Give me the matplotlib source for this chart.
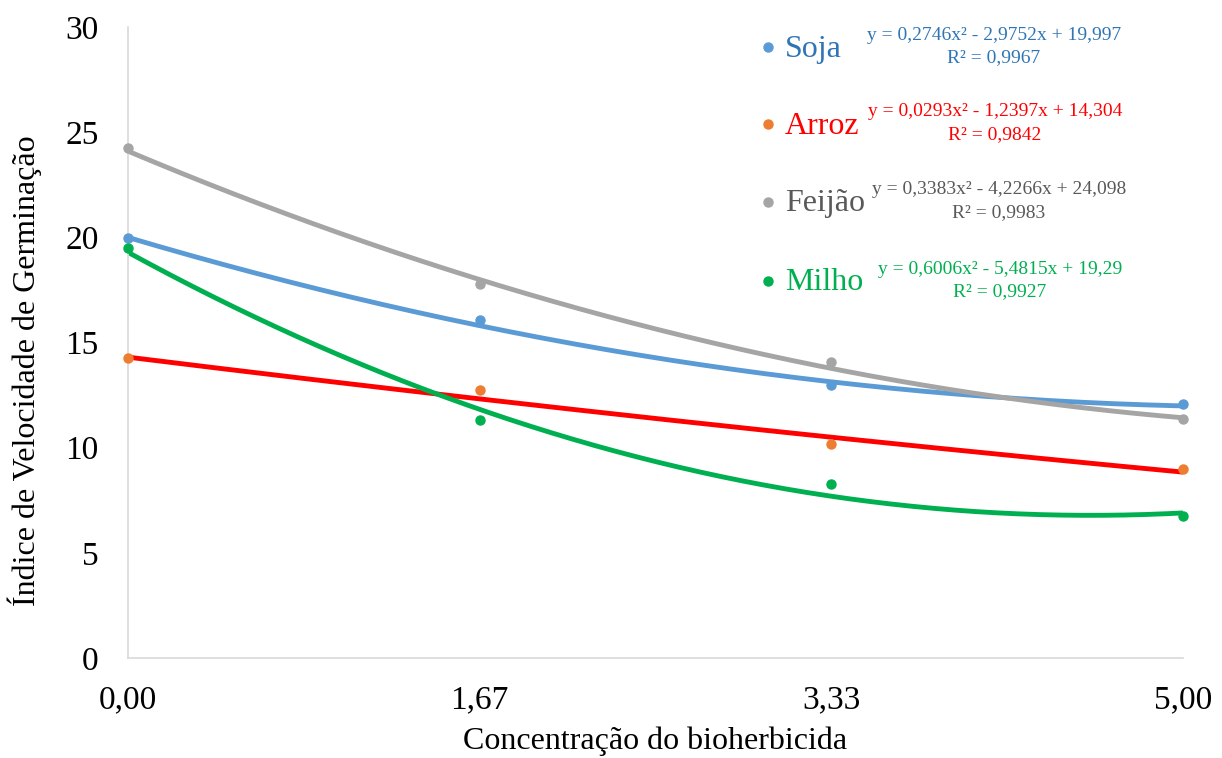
import matplotlib.pyplot as plt
import numpy as np

plt.rcParams['font.family'] = ['Liberation Serif', 'DejaVu Serif']

concentracao = [0.0, 1.6667, 3.3333, 5.0]
tick_labels = ["0,00", "1,67", "3,33", "5,00"]

soja = [19.97, 16.07, 12.98, 12.08]
arroz = [14.26, 12.74, 10.18, 8.99]
feijao = [24.25, 17.78, 14.07, 11.36]
milho = [19.5, 11.32, 8.27, 6.75]

# trendline coefficients as printed on the chart (a, b, c)
coef_soja = [0.2746, -2.9752, 19.997]
coef_arroz = [0.0293, -1.2397, 14.304]
coef_feijao = [0.3383, -4.2266, 24.098]
coef_milho = [0.6006, -5.4815, 19.29]

eq_soja = ["y = 0,2746x² - 2,9752x + 19,997", "R² = 0,9967"]
eq_arroz = ["y = 0,0293x² - 1,2397x + 14,304", "R² = 0,9842"]
eq_feijao = ["y = 0,3383x² - 4,2266x + 24,098", "R² = 0,9983"]
eq_milho = ["y = 0,6006x² - 5,4815x + 19,29", "R² = 0,9927"]

series = [
    ("Soja", soja, coef_soja, eq_soja, "#5B9BD5", "#5B9BD5", "#2E75B6"),
    ("Arroz", arroz, coef_arroz, eq_arroz, "#ED7D31", "#FF0000", "#FF0000"),
    ("Feijão", feijao, coef_feijao, eq_feijao, "#A5A5A5", "#A5A5A5", "#595959"),
    ("Milho", milho, coef_milho, eq_milho, "#00B050", "#00B050", "#00B050"),
]

fig = plt.figure(figsize=(12.22, 7.58), dpi=100)
ax = fig.add_axes([0.1047, 0.1319, 0.8633, 0.8325])

xs = np.linspace(0, 5, 200)
for name, vals, coef, eq, pcol, lcol, tcol in series:
    ax.plot(xs, np.polyval(coef, xs), color=lcol, lw=3.5, solid_capstyle='butt', zorder=2)
    ax.plot(concentracao, vals, 'o', color=pcol, ms=6.5, zorder=3, clip_on=False)

ax.set_xlim(0, 5)
ax.set_ylim(0, 30)
ax.set_xticks(concentracao)
ax.set_xticklabels(tick_labels)
ax.set_yticks(range(0, 31, 5))
ax.tick_params(length=0, labelsize=24)
ax.tick_params(axis='y', pad=21)
ax.tick_params(axis='x', pad=19)
for s in ['top', 'right']:
    ax.spines[s].set_visible(False)
for s in ['left', 'bottom']:
    ax.spines[s].set_color('#D9D9D9')
    ax.spines[s].set_linewidth(1.2)

ax.set_xlabel("Concentração do bioherbicida", fontsize=23, labelpad=8)
ax.set_ylabel("Índice de Velocidade de Germinação", fontsize=23, va='center')
ax.yaxis.set_label_coords(-0.0976, 0.455)

# custom legend with trendline equations
W, H = 1222, 758
legend_pos = [(47, 994), (124, 995), (202, 999), (281, 1000)]
for (name, vals, coef, eq, pcol, lcol, tcol), (py, ex) in zip(series, legend_pos):
    fig.lines.append(plt.Line2D([768 / W], [1 - py / H], marker='o', ms=6.5,
                                color=pcol, transform=fig.transFigure))
    fig.text(785 / W, 1 - (py + 2) / H, name, color=tcol, fontsize=23,
             ha='left', va='center')
    fig.text(ex / W, 1 - (py - 12) / H, eq[0], color=tcol, fontsize=14,
             ha='center', va='center')
    fig.text(ex / W, 1 - (py + 11) / H, eq[1], color=tcol, fontsize=14,
             ha='center', va='center')

fig.savefig("out.png", dpi=100)
